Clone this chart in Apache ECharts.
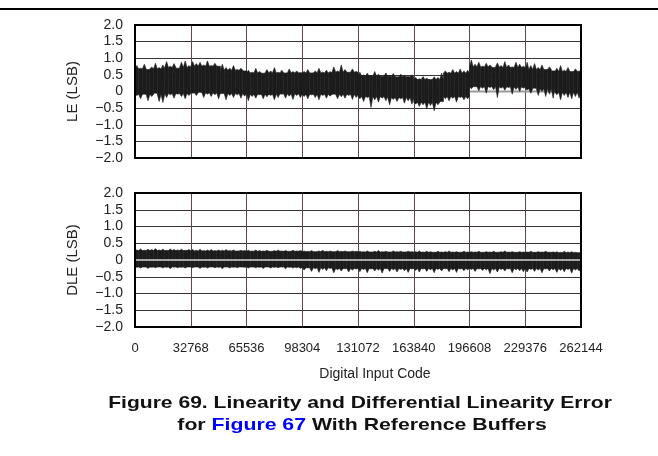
<!DOCTYPE html>
<html>
<head>
<meta charset="utf-8">
<script src="https://cdn.jsdelivr.net/npm/echarts@6/dist/echarts.min.js"></script>
<style>
html,body{margin:0;padding:0;background:#fff;}
#c{width:658px;height:456px;}
</style>
</head>
<body>
<div id="c"></div>
<script>
// ---- data ----
const xTicks = [0, 32768, 65536, 98304, 131072, 163840, 196608, 229376, 262144];
const yTickLabels = ['−2.0','−1.5','−1.0','−0.5','0','0.5','1.0','1.5','2.0'];
const codeMax = 262144;

// LE envelope: 120 bins across the code range (15 per 32768 codes)
const leHi = [
  0.78,0.70,0.82,0.66,0.74,0.85,0.72,0.80,0.90,0.76,0.84,0.70,0.88,0.92,0.78,
  0.90,0.84,0.88,0.80,0.92,0.78,0.85,0.76,0.82,0.72,0.70,0.78,0.66,0.70,0.62,
  0.64,0.58,0.70,0.60,0.55,0.66,0.62,0.72,0.58,0.64,0.56,0.68,0.60,0.62,0.57,
  0.60,0.66,0.56,0.62,0.70,0.58,0.64,0.60,0.74,0.62,0.80,0.66,0.58,0.68,0.60,
  0.58,0.50,0.55,0.48,0.60,0.52,0.46,0.56,0.50,0.54,0.44,0.52,0.48,0.45,0.50,
  0.42,0.38,0.45,0.40,0.36,0.44,0.42,0.55,0.62,0.58,0.66,0.60,0.68,0.62,0.64,
  0.95,0.82,0.88,0.76,0.85,0.80,0.72,0.86,0.78,0.90,0.80,0.74,0.88,0.82,0.76,
  0.88,0.78,0.84,0.72,0.80,0.66,0.74,0.62,0.70,0.78,0.64,0.72,0.60,0.68,0.62];
const leLo = [
  -0.12,-0.22,-0.08,-0.28,-0.15,-0.05,-0.30,-0.33,-0.18,-0.10,-0.20,-0.08,-0.15,-0.22,-0.12,
  -0.05,-0.12,-0.02,-0.18,-0.08,-0.15,-0.10,-0.22,-0.06,-0.25,-0.12,-0.18,-0.10,-0.20,-0.14,
  -0.28,-0.15,-0.20,-0.10,-0.22,-0.16,-0.12,-0.25,-0.18,-0.08,-0.20,-0.14,-0.24,-0.12,-0.18,
  -0.15,-0.22,-0.10,-0.18,-0.25,-0.12,-0.20,-0.14,-0.08,-0.22,-0.16,-0.20,-0.12,-0.24,-0.18,
  -0.22,-0.30,-0.18,-0.48,-0.25,-0.32,-0.20,-0.28,-0.40,-0.24,-0.30,-0.22,-0.35,-0.28,-0.38,
  -0.38,-0.45,-0.40,-0.52,-0.42,-0.58,-0.40,-0.30,-0.22,-0.28,-0.20,-0.32,-0.18,-0.25,-0.22,
  0.08,0.14,0.02,0.10,-0.05,0.12,0.05,-0.18,0.10,0.04,0.12,-0.08,0.06,0.00,0.10,
  0.05,-0.05,0.10,-0.12,0.00,-0.15,-0.08,-0.20,-0.10,-0.25,-0.12,-0.18,-0.22,-0.15,-0.20];
// LE dense core (16 segments of 16384 codes)
const leCoreHi = [0.68,0.72,0.76,0.64,0.56,0.56,0.56,0.58,0.46,0.44,0.36,0.55,0.74,0.72,0.66,0.60];
const leCoreLo = [-0.08,-0.06,-0.04,-0.06,-0.08,-0.07,-0.08,-0.08,-0.15,-0.18,-0.32,-0.15,0.15,0.14,0.08,-0.02];

// DLE envelope: 120 bins
const dleHi = [
  0.30,0.33,0.29,0.32,0.31,0.34,0.30,0.32,0.29,0.33,0.31,0.30,0.32,0.29,0.31,
  0.31,0.29,0.32,0.28,0.30,0.31,0.28,0.30,0.29,0.31,0.28,0.30,0.27,0.29,0.28,
  0.29,0.27,0.30,0.28,0.27,0.29,0.26,0.28,0.30,0.27,0.28,0.26,0.29,0.27,0.28,
  0.27,0.26,0.28,0.25,0.27,0.29,0.26,0.27,0.25,0.28,0.26,0.27,0.25,0.27,0.26,
  0.26,0.25,0.27,0.24,0.26,0.28,0.25,0.26,0.24,0.27,0.25,0.26,0.24,0.26,0.25,
  0.25,0.27,0.24,0.26,0.25,0.23,0.26,0.24,0.25,0.27,0.24,0.25,0.23,0.26,0.24,
  0.25,0.24,0.26,0.23,0.25,0.24,0.26,0.23,0.25,0.27,0.24,0.25,0.23,0.25,0.24,
  0.24,0.26,0.23,0.25,0.24,0.26,0.23,0.24,0.25,0.23,0.26,0.24,0.25,0.23,0.22];
const dleLo = [
  -0.22,-0.24,-0.21,-0.25,-0.22,-0.23,-0.21,-0.24,-0.22,-0.26,-0.21,-0.23,-0.22,-0.24,-0.21,
  -0.23,-0.21,-0.25,-0.22,-0.24,-0.21,-0.23,-0.22,-0.26,-0.21,-0.24,-0.22,-0.23,-0.21,-0.22,
  -0.24,-0.21,-0.23,-0.22,-0.25,-0.21,-0.24,-0.22,-0.23,-0.21,-0.26,-0.22,-0.24,-0.23,-0.25,
  -0.30,-0.24,-0.34,-0.26,-0.37,-0.28,-0.32,-0.25,-0.38,-0.29,-0.33,-0.26,-0.36,-0.30,-0.27,
  -0.35,-0.28,-0.38,-0.27,-0.33,-0.30,-0.39,-0.26,-0.34,-0.29,-0.36,-0.28,-0.32,-0.37,-0.27,
  -0.31,-0.36,-0.27,-0.34,-0.29,-0.38,-0.28,-0.33,-0.26,-0.35,-0.30,-0.37,-0.27,-0.32,-0.29,
  -0.28,-0.34,-0.27,-0.31,-0.29,-0.41,-0.30,-0.36,-0.28,-0.33,-0.27,-0.38,-0.29,-0.32,-0.35,
  -0.36,-0.28,-0.34,-0.30,-0.38,-0.27,-0.33,-0.29,-0.37,-0.31,-0.35,-0.28,-0.39,-0.30,-0.33];
const dleCoreHi = [0.28,0.28,0.27,0.27,0.26,0.26,0.25,0.25,0.24,0.24,0.23,0.23,0.23,0.23,0.23,0.22];
const dleCoreLo = [-0.21,-0.21,-0.21,-0.21,-0.21,-0.21,-0.23,-0.25,-0.25,-0.25,-0.25,-0.25,-0.25,-0.25,-0.25,-0.25];

// ---- build ----
// one item per bin: [x0, x1, hi, lo, coreHi, coreLo]
function bins(hi, lo, cHi, cLo) {
  const w = codeMax / hi.length, n = cHi.length;
  return hi.map((h, i) => {
    const s = Math.min(n - 1, Math.floor(i * n / hi.length));
    return [i * w, (i + 1) * w, h, lo[i], Math.min(cHi[s], h), Math.max(cLo[s], lo[i])];
  });
}
function binRender(params, api) {
  const x0 = api.value(0), x1 = api.value(1), xm = (x0 + x1) / 2;
  const pts = [
    api.coord([x0, api.value(4)]), api.coord([xm, api.value(2)]), api.coord([x1, api.value(4)]),
    api.coord([x1, api.value(5)]), api.coord([xm, api.value(3)]), api.coord([x0, api.value(5)])
  ];
  return {type: 'polygon', shape: {points: pts},
          style: {fill: '#1c1c1c', stroke: '#1c1c1c', lineWidth: 0.6}};
}
const FONT = 'Liberation Sans, Arial, Helvetica, sans-serif';
const yLabelFmt = v => yTickLabels[Math.round((v + 2) / 0.5)];

function yAxis(gi, name) {
  return {
    gridIndex: gi, type: 'value', min: -2, max: 2, interval: 0.5,
    name: name, nameLocation: 'middle', nameGap: 55, nameRotate: 90,
    nameTextStyle: {fontFamily: FONT, fontSize: 15, color: '#222'},
    axisLine: {show: false}, axisTick: {show: false},
    axisLabel: {formatter: yLabelFmt, fontFamily: FONT, fontSize: 14, color: '#222', margin: 12},
    splitLine: {show: true, lineStyle: {color: '#3a3333', width: 1}}
  };
}
function xAxis(gi, showLabels) {
  return {
    gridIndex: gi, type: 'value', min: 0, max: codeMax, interval: 32768,
    axisLine: {show: false}, axisTick: {show: false},
    axisLabel: {show: showLabels, fontFamily: FONT, fontSize: 13, color: '#222', margin: 15,
                formatter: v => String(xTicks[Math.round(v / 32768)])},
    splitLine: {show: true, lineStyle: {color: '#5a4848', width: 1}}
  };
}

const chart = echarts.init(document.getElementById('c'), null, {renderer: 'canvas'});
chart.setOption({
  animation: false,
  backgroundColor: '#fff',
  grid: [
    {left: 135, top: 25, width: 446, height: 133, show: true, borderColor: '#000', borderWidth: 2, backgroundColor: 'transparent', z: 10},
    {left: 135, top: 193, width: 446, height: 134, show: true, borderColor: '#000', borderWidth: 2, backgroundColor: 'transparent', z: 10}
  ],
  xAxis: [xAxis(0, false), xAxis(1, true)],
  yAxis: [yAxis(0, 'LE (LSB)'), yAxis(1, 'DLE (LSB)')],
  series: [
    {type: 'line', xAxisIndex: 0, yAxisIndex: 0, data: [[0,0],[codeMax,0]], symbol: 'none', silent: true,
     lineStyle: {color: '#999', width: 2}, z: 1},
    {type: 'custom', xAxisIndex: 0, yAxisIndex: 0, data: bins(leHi, leLo, leCoreHi, leCoreLo),
     renderItem: binRender, z: 2, silent: true},
    {type: 'custom', xAxisIndex: 1, yAxisIndex: 1, data: bins(dleHi, dleLo, dleCoreHi, dleCoreLo),
     renderItem: binRender, z: 2, silent: true},
    {type: 'line', xAxisIndex: 1, yAxisIndex: 1, data: [[0,0],[codeMax,0]], symbol: 'none', silent: true,
     lineStyle: {color: '#a8a8a8', width: 2}, z: 4}
  ],
  graphic: [
    {type: 'line', shape: {x1: 0, y1: 9, x2: 658, y2: 9}, style: {stroke: '#000', lineWidth: 2}},
    {type: 'text', x: 375, y: 374, style: {text: 'Digital Input Code',
      font: '14px ' + FONT, fill: '#222', textAlign: 'center', textVerticalAlign: 'middle'}},
    {type: 'text', x: 360, y: 403, scaleX: 1.24, style: {text: 'Figure 69. Linearity and Differential Linearity Error',
      font: 'bold 17px ' + FONT, fill: '#111', textAlign: 'center', textVerticalAlign: 'middle'}},
    {type: 'text', x: 362, y: 425, scaleX: 1.25, style: {text: 'for {b|Figure 67} With Reference Buffers',
      font: 'bold 17px ' + FONT, fill: '#111', textAlign: 'center', textVerticalAlign: 'middle',
      rich: {b: {fill: '#0000ff', font: 'bold 17px ' + FONT}}}}
  ]
});
</script>
</body>
</html>
